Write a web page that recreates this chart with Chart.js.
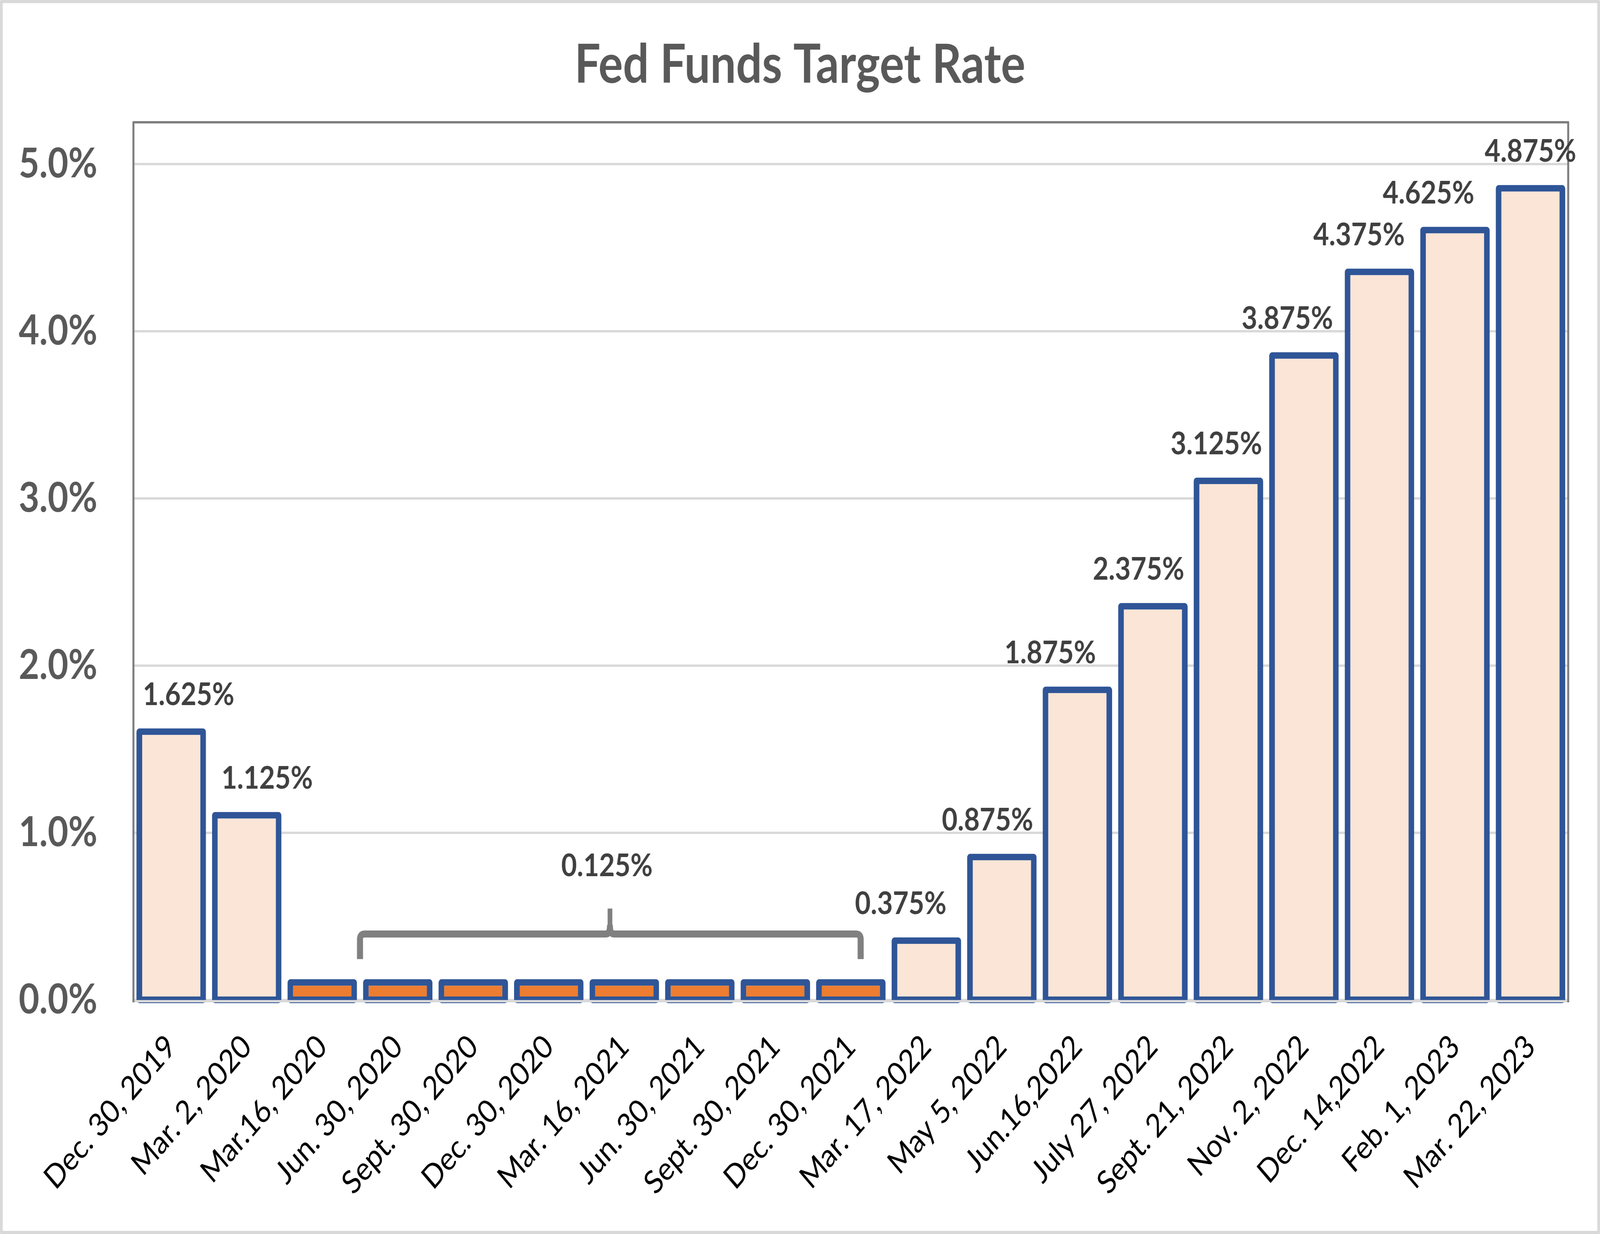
<!DOCTYPE html>
<html>
<head>
<meta charset="utf-8">
<script src="https://cdn.jsdelivr.net/npm/chart.js@4.4.1/dist/chart.umd.min.js"></script>
<style>
  html, body { margin: 0; padding: 0; background: #ffffff; overflow: hidden; }
  canvas { display: block; position: fixed; left: 0; top: 0; width: 100vw; height: 100vh; }
</style>
</head>
<body>
<canvas id="c" width="4784" height="3159" style="width:100vw;height:100vh"></canvas>
<script>
// ---- data ----
const categories = ["Dec. 30, 2019","Mar. 2, 2020","Mar.16, 2020","Jun. 30, 2020","Sept. 30, 2020","Dec. 30, 2020","Mar. 16, 2021","Jun. 30, 2021","Sept. 30, 2021","Dec. 30, 2021","Mar. 17, 2022","May 5, 2022","Jun.16,2022","July 27, 2022","Sept. 21, 2022","Nov. 2, 2022","Dec. 14,2022","Feb. 1, 2023","Mar. 22, 2023"];
const rates = [1.625,1.125,0.125,0.125,0.125,0.125,0.125,0.125,0.125,0.125,0.375,0.875,1.875,2.375,3.125,3.875,4.375,4.625,4.875];
const yTicks = [0,1,2,3,4,5];
const titleText = "Fed Funds Target Rate";
const zeroRateLabel = "0.125%";

// ---- style ----
const BLUE = "#2F5597", LIGHT = "#FBE5D6", ORANGE = "#ED7D31";
const LABEL_DX = {0:0.23,1:0.27,10:-0.34,11:-0.19,12:-0.36,13:-0.19,14:-0.16,15:-0.22,16:-0.27,17:-0.35,18:0};

const decor = {
  id: 'decor',
  beforeDraw(chart) {
    const ctx = chart.ctx;
    ctx.save(); ctx.fillStyle = '#fff'; ctx.fillRect(0, 0, chart.width, chart.height); ctx.restore();
  },
  afterDatasetsDraw(chart) {
    const ctx = chart.ctx, a = chart.chartArea;
    const xs = chart.scales.x, ys = chart.scales.y;
    const cw = xs.getPixelForValue(1) - xs.getPixelForValue(0);
    const px = i => xs.getPixelForValue(0) + i * cw;
    const y0 = ys.getPixelForValue(0);
    ctx.save();
    // zero line
    ctx.strokeStyle = '#D9D9D9'; ctx.lineWidth = 6;
    ctx.beginPath(); ctx.moveTo(a.left, y0 + 3); ctx.lineTo(a.right, y0 + 3); ctx.stroke();
    // plot frame
    ctx.strokeStyle = '#7F7F7F'; ctx.lineWidth = 6; ctx.lineJoin = 'round';
    ctx.beginPath();
    ctx.moveTo(a.left, y0 + 6); ctx.lineTo(a.left, a.top); ctx.lineTo(a.right, a.top); ctx.lineTo(a.right, y0 + 6);
    ctx.stroke();
    // value labels
    ctx.fillStyle = '#404040'; ctx.font = 'bold 81px Lato';
    ctx.textAlign = 'center'; ctx.textBaseline = 'alphabetic';
    const meta = chart.getDatasetMeta(0);
    rates.forEach((v, i) => {
      if (!(i in LABEL_DX)) return;
      ctx.fillText(v.toFixed(3) + '%', meta.data[i].x + LABEL_DX[i] * cw, ys.getPixelForValue(v) - 60);
    });
    // bracket over the 0.125% bars
    const L = px(2.50), R = px(9.13), C = px(5.81);
    const yb = ys.getPixelForValue(0.245), yh = ys.getPixelForValue(0.395), ys2 = ys.getPixelForValue(0.547), yn = ys.getPixelForValue(0.44);
    ctx.strokeStyle = '#808080'; ctx.lineWidth = 18; ctx.lineCap = 'butt';
    ctx.beginPath();
    ctx.moveTo(L, yb); ctx.lineTo(L, yh + 14); ctx.quadraticCurveTo(L, yh, L + 14, yh);
    ctx.lineTo(C - 12, yh); ctx.quadraticCurveTo(C, yh, C, yn);
    ctx.quadraticCurveTo(C, yh, C + 12, yh);
    ctx.lineTo(R - 14, yh); ctx.quadraticCurveTo(R, yh, R, yh + 14); ctx.lineTo(R, yb);
    ctx.stroke();
    ctx.beginPath(); ctx.lineWidth = 14; ctx.moveTo(C, yn); ctx.lineTo(C, ys2); ctx.stroke();
    ctx.fillText(zeroRateLabel, px(5.77), ys.getPixelForValue(0.74));
    // title
    ctx.fillStyle = '#595959'; ctx.font = 'bold 137px Lato';
    ctx.fillText(titleText, chart.width / 2, 212);
    // outer frame
    ctx.strokeStyle = '#D9D9D9'; ctx.lineWidth = 8;
    ctx.strokeRect(4, 4, chart.width - 8, chart.height - 8);
    ctx.restore();
  }
};

new Chart(document.getElementById('c'), {
  type: 'bar',
  data: { labels: categories, datasets: [{
      data: rates,
      backgroundColor: c => (c.raw <= 0.125 ? ORANGE : LIGHT),
      borderColor: BLUE, borderWidth: 17, borderSkipped: false, borderRadius: 9,
      barPercentage: 0.92, categoryPercentage: 1.0, base: -0.0187, clip: false
  }] },
  options: {
    responsive: false, animation: false, devicePixelRatio: 1,
    layout: { padding: { top: 313, right: 95, left: 0, bottom: 0 } },
    plugins: { legend: { display: false }, title: { display: false }, tooltip: { enabled: false } },
    scales: {
      x: {
        grid: { display: false, drawTicks: false }, border: { display: false },
        ticks: { color: '#000000', font: { family: 'Lato', size: 83 }, maxRotation: 45, minRotation: 45, autoSkip: false, padding: 70 },
        afterFit(s) { s.height = 3159 - 2560; }
      },
      y: {
        min: 0, max: 5.25,
        grid: { color: '#D9D9D9', lineWidth: 6, drawTicks: false }, border: { display: false },
        afterBuildTicks(s) { s.ticks = yTicks.map(v => ({ value: v })); },
        ticks: { color: '#595959', font: { family: 'Lato', size: 106, weight: 'bold' }, padding: 108, callback: v => Number(v).toFixed(1) + '%' },
        afterFit(s) { s.width = 399; }
      }
    }
  },
  plugins: [decor]
});
</script>
</body>
</html>
